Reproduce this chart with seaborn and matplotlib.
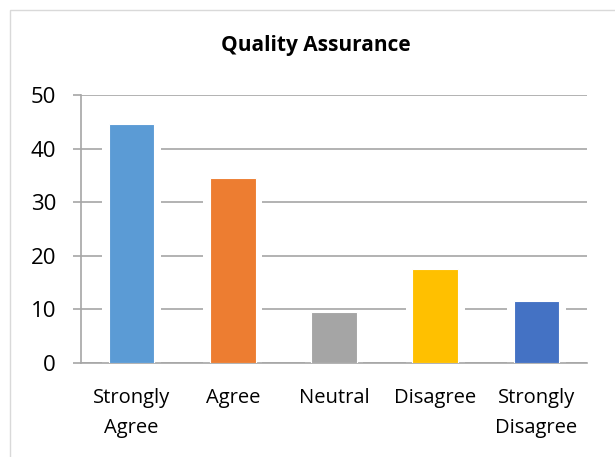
import matplotlib
matplotlib.use("Agg")
import matplotlib.pyplot as plt
import seaborn as sns
import pandas as pd
from matplotlib.patches import Rectangle

categories = ["Strongly\nAgree", "Agree", "Neutral", "Disagree", "Strongly\nDisagree"]
values = [44.5, 34.5, 9.5, 17.5, 11.5]
colors = ["#5b9bd5", "#ed7d31", "#a5a5a5", "#ffc000", "#4472c4"]

sns.set_style("white")
plt.rcParams["font.family"] = ["Open Sans", "DejaVu Sans"]
plt.rcParams["text.color"] = "black"

df = pd.DataFrame({"cat": categories, "val": values})

fig = plt.figure(figsize=(6.15, 4.57), dpi=100)
ax = fig.add_axes([81 / 615, 1 - 363 / 457, (587 - 81) / 615, (363 - 95) / 457])

# white halo behind bars so gridlines break around them
sns.barplot(data=df, x="cat", y="val", color="white", width=0.58, ax=ax,
            zorder=2, linewidth=0, saturation=1)
sns.barplot(data=df, x="cat", y="val", hue="cat", palette=colors, width=0.45,
            ax=ax, zorder=3, legend=False, linewidth=0.8, edgecolor="#ffffff",
            saturation=1)

ax.set_ylim(0, 50)
ax.set_xlim(-0.5, 4.5)
ax.set_yticks(range(0, 51, 10))
ax.yaxis.grid(True, color="#a6a6a6", linewidth=1.2, zorder=1)
ax.set_axisbelow(True)
ax.set_xlabel("")
ax.set_ylabel("")

for s in ["top", "right"]:
    ax.spines[s].set_visible(False)
for s in ["left", "bottom"]:
    ax.spines[s].set_color("#a6a6a6")
    ax.spines[s].set_linewidth(1.2)

ax.set_xticks([0, 1, 2, 3, 4])
ax.set_xticklabels(categories, fontsize=14.5, linespacing=1.65)
ax.tick_params(axis="x", length=0, pad=18, labelcolor="black")
ax.set_xticks([-0.5, 0.5, 1.5, 2.5, 3.5, 4.5], minor=True)
ax.tick_params(axis="x", which="minor", length=7, color="#a6a6a6", width=1.2, direction="out")
ax.tick_params(axis="y", labelsize=16, length=6, color="#a6a6a6", width=1.2,
               direction="out", left=True, pad=12, labelcolor="black")

fig.text(316 / 615, 1 - 46 / 457, "Quality Assurance", ha="center", va="center",
         fontsize=15, fontweight="bold", color="black")

fig.patches.append(Rectangle((10 / 615, -0.01), 1.0, 1 - 10 / 457 + 0.01,
                             transform=fig.transFigure, fill=False,
                             edgecolor="#d9d9d9", linewidth=1))

fig.savefig("out.png", dpi=100)
